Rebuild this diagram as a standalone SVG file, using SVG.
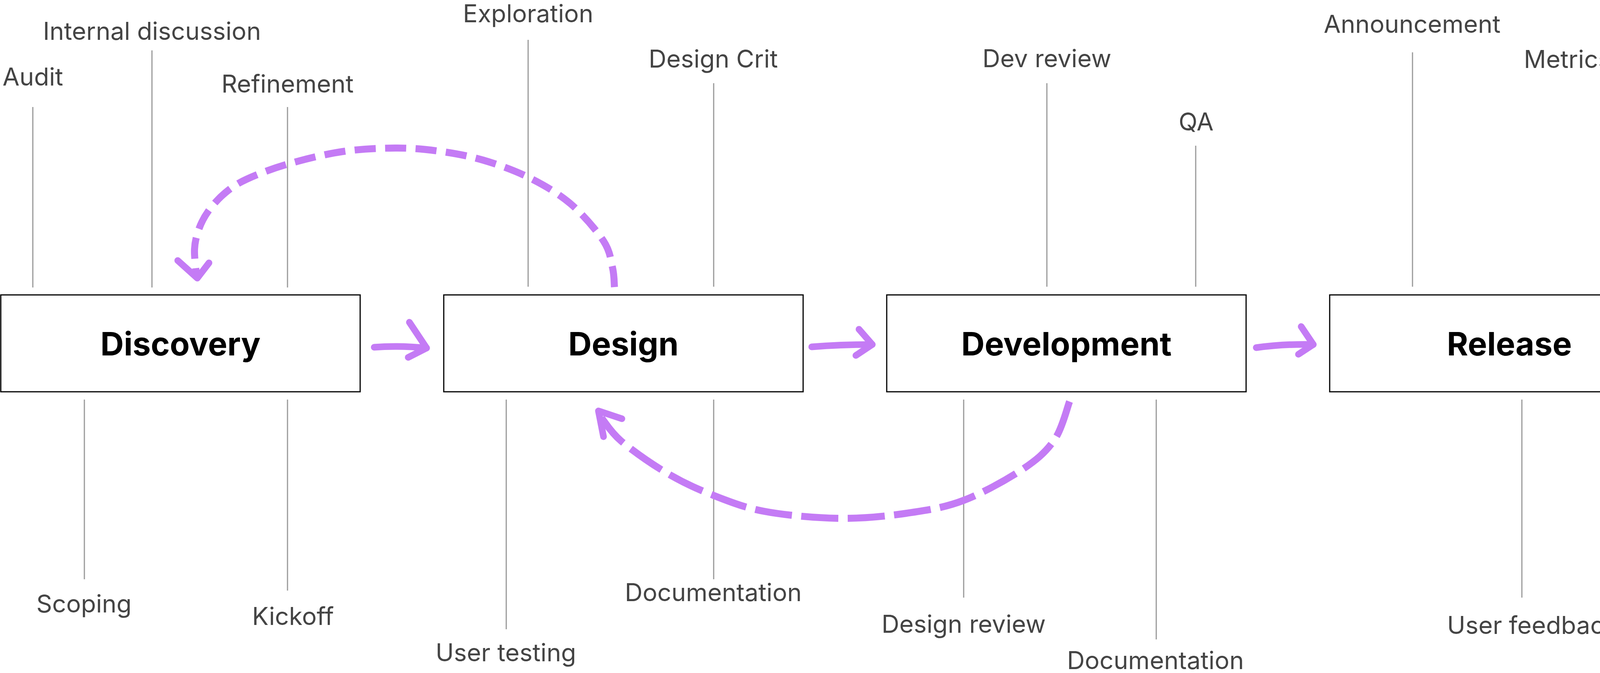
<svg xmlns="http://www.w3.org/2000/svg" width="4318" height="1723" viewBox="0 0 4318 1723">
<style>
.bg{fill:#ffffff}
.box{fill:#ffffff;stroke:#000000;stroke-width:3}
.title{font-family:Inter,"Liberation Sans",sans-serif;font-weight:700;font-size:83px;fill:#000000;text-anchor:middle}
.lbl{font-family:Inter,"Liberation Sans",sans-serif;font-size:63px;fill:#444444;text-anchor:middle}
.tick{stroke:#9a9a9a;stroke-width:3;fill:none}
.arrow{fill:none;stroke:#c47bf5;stroke-width:17;stroke-linecap:round;stroke-linejoin:round}
.dash1{fill:none;stroke:#c47bf5;stroke-width:18;stroke-dasharray:54 24}
.dash2{fill:none;stroke:#c47bf5;stroke-width:18;stroke-dasharray:95 24}
</style>
<rect class="bg" x="0" y="0" width="4318" height="1723"/>

<g id="stage-discovery">
<rect class="box" x="2" y="755" width="920" height="248"/>
<text class="title" x="462" y="910">Discovery</text>
</g>
<g id="stage-design">
<rect class="box" x="1136" y="755" width="920" height="248"/>
<text class="title" x="1596" y="910">Design</text>
</g>
<g id="stage-development">
<rect class="box" x="2270" y="755" width="920" height="248"/>
<text class="title" x="2730" y="910">Development</text>
</g>
<g id="stage-release">
<rect class="box" x="3404" y="755" width="920" height="248"/>
<text class="title" x="3864" y="910">Release</text>
</g>

<g id="label-audit"><line class="tick" x1="84" y1="274" x2="84" y2="736"/><text class="lbl" x="84" y="219">Audit</text></g>
<g id="label-internal-discussion"><line class="tick" x1="389" y1="129" x2="389" y2="736"/><text class="lbl" x="389" y="102">Internal discussion</text></g>
<g id="label-refinement"><line class="tick" x1="736" y1="274" x2="736" y2="736"/><text class="lbl" x="736" y="237">Refinement</text></g>
<g id="label-exploration"><line class="tick" x1="1352" y1="102" x2="1352" y2="734"/><text class="lbl" x="1352" y="57">Exploration</text></g>
<g id="label-design-crit"><line class="tick" x1="1827" y1="213" x2="1827" y2="734"/><text class="lbl" x="1826" y="173">Design Crit</text></g>
<g id="label-dev-review"><line class="tick" x1="2680" y1="213" x2="2680" y2="734"/><text class="lbl" x="2680" y="172">Dev review</text></g>
<g id="label-qa"><line class="tick" x1="3061" y1="373" x2="3061" y2="734"/><text class="lbl" x="3062" y="334">QA</text></g>
<g id="label-announcement"><line class="tick" x1="3616" y1="134" x2="3616" y2="734"/><text class="lbl" x="3615" y="84">Announcement</text></g>
<g id="label-metrics-check"><line class="tick" x1="4109" y1="213" x2="4109" y2="734"/><text class="lbl" x="3901" y="174" style="text-anchor:start">Metrics check</text></g>

<g id="label-scoping"><line class="tick" x1="216" y1="1023" x2="216" y2="1483"/><text class="lbl" x="215" y="1568">Scoping</text></g>
<g id="label-kickoff"><line class="tick" x1="736" y1="1023" x2="736" y2="1512"/><text class="lbl" x="750" y="1600">Kickoff</text></g>
<g id="label-user-testing"><line class="tick" x1="1296" y1="1023" x2="1296" y2="1611"/><text class="lbl" x="1295" y="1693">User testing</text></g>
<g id="label-documentation-design"><line class="tick" x1="1827" y1="1023" x2="1827" y2="1483"/><text class="lbl" x="1826" y="1539">Documentation</text></g>
<g id="label-design-review"><line class="tick" x1="2467" y1="1023" x2="2467" y2="1530"/><text class="lbl" x="2467" y="1620">Design review</text></g>
<g id="label-documentation-dev"><line class="tick" x1="2960" y1="1023" x2="2960" y2="1637"/><text class="lbl" x="2958" y="1713">Documentation</text></g>
<g id="label-user-feedback"><line class="tick" x1="3896" y1="1023" x2="3896" y2="1530"/><text class="lbl" x="3923" y="1623">User feedback</text></g>

<g id="connectors">
<path class="arrow" d="M958,889 Q1020,884 1092,891"/>
<path class="arrow" d="M1048,825 L1092,891 L1045,915"/>
<path class="arrow" d="M2078,888 Q2150,882 2233,882"/>
<path class="arrow" d="M2199,843 L2233,882 L2191,910"/>
<path class="arrow" d="M3216,890 Q3290,880 3362,882"/>
<path class="arrow" d="M3331,836 L3362,882 L3324,907"/>

<path class="dash1" d="M1573,735 C1572.2,726.7 1572.7,704.7 1568,685 C1563.3,665.3 1562.8,644.2 1545,617 C1527.2,589.8 1492.7,549 1461,522 C1429.3,495 1392.3,473.7 1355,455 C1317.7,436.3 1275.5,421.3 1237,410 C1198.5,398.7 1161.5,392.2 1124,387 C1086.5,381.8 1053.2,378.8 1012,379 C970.8,379.2 922.8,381.2 877,388 C831.2,394.8 778,408.2 737,420 C696,431.8 658,446.5 631,459 C604,471.5 591.3,481.3 575,495 C558.7,508.7 544,525.7 533,541 C522,556.3 514.8,570.8 509,587 C503.2,603.2 499,618.3 498,638 C497,657.7 502.2,693.8 503,705"/>
<path class="arrow" d="M455,667 L505,712 L535,673"/>

<path class="dash2" d="M2738,1028 C2731.7,1044.2 2719.7,1096.3 2700,1125 C2680.3,1153.7 2658.8,1174 2620,1200 C2581.2,1226 2516.8,1262 2467,1281 C2417.2,1300 2373.8,1306.3 2321,1314 C2268.2,1321.7 2210.8,1327.8 2150,1327 C2089.2,1326.2 2011.7,1319.5 1956,1309 C1900.3,1298.5 1858.3,1280.8 1816,1264 C1773.7,1247.2 1739.7,1230.5 1702,1208 C1664.3,1185.5 1617,1152 1590,1129 C1563,1106 1548.3,1079.8 1540,1070"/>
<path class="arrow" d="M1592,1072 L1532,1052 L1545,1118"/>
</g>
</svg>
